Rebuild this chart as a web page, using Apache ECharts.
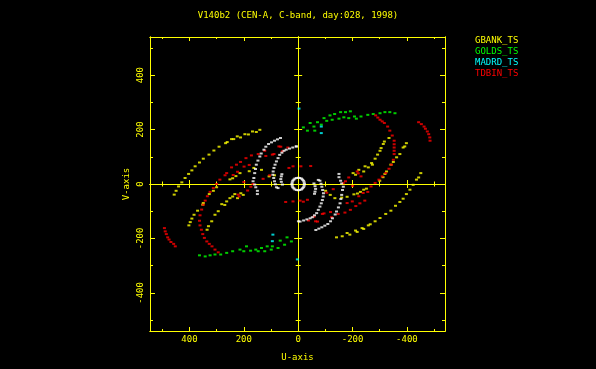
<!DOCTYPE html>
<html><head><meta charset="utf-8">
<script src="https://cdn.jsdelivr.net/npm/echarts@6/dist/echarts.min.js"></script>
<style>html,body{margin:0;padding:0;background:#000;}#c{width:596px;height:369px;}</style>
</head><body><div id="c"></div>
<script>
// ---------- texts / ticks ----------
const chartTitle = 'V140b2 (CEN-A, C-band, day:028, 1998)';
const stationNames = ['GBANK_TS', 'GOLDS_TS', 'MADRD_TS', 'TDBIN_TS'];
const uAxisName = 'U-axis';
const vAxisName = 'V-axis';
const majorTicks = [-400, -200, 0, 200, 400];
const minorTicks = [-500, -300, -100, 100, 300, 500];
const tickLabels = [-400, -200, 0, 200, 400];
const uRange = [-540, 545];
const vRange = [-540, 540];

// ---------- GBANK_TS (yellow) [u, v] ----------
const gbankOuterA = [[456,-39],[449,-25],[440,-9],[428,6],[416,22],[403,37],[391,50],[379,65],[363,79],[349,93],[328,108],[310,123],[291,137],[267,150],[261,154],[245,165],[237,165],[224,175],[212,171],[196,183],[183,182],[168,193],[154,191],[141,199]];
const gbankOuterB = [[-141,-196],[-162,-192],[-180,-180],[-190,-186],[-211,-171],[-217,-176],[-235,-162],[-241,-165],[-258,-152],[-265,-148],[-283,-137],[-301,-125],[-322,-110],[-341,-98],[-358,-80],[-374,-66],[-386,-54],[-398,-37],[-411,-21],[-423,-3],[-435,16],[-443,24],[-451,40]];
const gbankMidA = [[-202,40],[-211,34],[-223,52],[-241,46],[-246,65],[-258,61],[-270,77],[-273,71],[-283,93],[-292,108],[-301,122],[-305,132],[-313,147],[-317,156],[-334,169]];
const gbankMidB = [[202,-40],[211,-34],[223,-52],[233,-37],[241,-46],[251,-52],[263,-64],[270,-77],[281,-74],[294,-100],[306,-113],[318,-137],[330,-155],[335,-168]];
const gbankInnerA = [[-300,12],[-312,25],[-319,37],[-325,46],[-341,71],[-350,81],[-362,98],[-374,110],[-386,134],[-392,138],[-398,150]];
const gbankInnerB = [[300,-12],[312,-25],[327,-37],[349,-70],[351,-76],[370,-98],[383,-113],[391,-127],[397,-140],[402,-152]];
const gbankNearA = [[-101,-25],[-118,-40],[-135,-52],[-160,-50],[-180,-47],[-205,-38],[-218,-35],[-229,-29],[-241,-21],[-251,-17]];
const gbankNearB = [[87,32],[107,28],[135,52],[163,59],[180,47],[214,40],[229,29],[241,21],[251,17]];

// ---------- GOLDS_TS (green) ----------
const goldsA = [[363,-262],[342,-266],[324,-262],[306,-259],[285,-259],[263,-253],[241,-247],[214,-241],[200,-247],[190,-229],[175,-245],[156,-241],[147,-247],[135,-235],[123,-247],[114,-229],[99,-241],[95,-229],[74,-235],[66,-208],[50,-223],[41,-196],[25,-211]];
const goldsB = [[-19,208],[-34,196],[-44,224],[-58,211],[-61,196],[-71,227],[-85,218],[-95,242],[-105,232],[-117,252],[-125,236],[-134,257],[-150,240],[-156,264],[-168,245],[-174,264],[-186,242],[-192,267],[-207,248],[-214,240],[-231,248],[-256,254],[-276,257],[-301,260],[-319,264],[-337,264],[-356,260]];

// ---------- MADRD_TS (cyan) ----------
const madrd = [[93,-186],[95,-210],[-85,211],[-85,187],[3,-277],[-3,277]];

// ---------- TDBIN_TS (red) ----------
const tdbinOuterA = [[492,-162],[489,-174],[485,-184],[480,-196],[475,-204],[468,-213],[458,-220],[452,-229]];
const tdbinOuterB = [[-443,227],[-453,220],[-463,211],[-468,203],[-475,193],[-480,183],[-484,171],[-485,159]];
const tdbinMainA = [[239,33],[223,45],[199,64],[180,70],[263,40],[269,32],[288,16],[300,0],[312,-15],[324,-29],[334,-45],[342,-61],[349,-76],[355,-94],[361,-115],[363,-135],[361,-152],[356,-168],[351,-184],[345,-198],[336,-211],[327,-220],[317,-229],[306,-241],[294,-251]];
const tdbinMainB = [[-285,252],[-293,244],[-301,236],[-309,230],[-317,224],[-329,211],[-337,196],[-346,178],[-353,159],[-353,146],[-353,134],[-353,122],[-353,110],[-350,89],[-343,71],[-334,56],[-322,40],[-309,28],[-297,16],[-283,4],[-268,-9],[-256,-29],[-239,-33],[-223,-45],[-199,-64],[-180,-70]];
const tdbinInnerA = [[245,61],[227,71],[212,81],[192,95],[172,105],[147,110],[123,122],[95,108],[71,138],[58,120],[38,134],[34,59],[19,65],[129,19],[105,32],[166,0],[200,7],[221,-39],[46,-66],[19,-64],[186,-24],[174,-10],[217,-46],[89,110],[64,137],[119,103]];
const tdbinInnerB = [[-245,-61],[-227,-71],[-212,-81],[-192,-95],[-172,-105],[-147,-110],[-123,-122],[-95,-108],[-71,-138],[-58,-120],[-38,-134],[-34,-58],[-19,-65],[-7,-61],[-129,-19],[-105,-32],[-166,3],[-200,-7],[-221,39],[-46,66],[-10,65],[-186,24],[-174,10],[-217,46],[-231,28],[-89,-110],[-64,-137],[-119,-103]];

// ---------- unlabelled white tracks ----------
const whiteArcA = [[150,-37],[150,-25],[156,-12],[160,-2],[166,10],[163,22],[160,40],[157,55],[154,71],[148,86],[141,101],[136,112],[126,126],[119,137],[109,147],[98,153],[87,159],[76,164],[65,169]];
const whiteArcB = [[7,138],[20,134],[32,130],[44,126],[52,122],[60,115],[68,107],[74,95],[80,83],[85,71],[89,59],[92,46],[93,34],[90,22],[87,10],[84,-1],[80,-12],[74,-15]];
const whiteArcC = [[62,28],[60,36],[64,18],[62,8],[58,-2]];
const whiteArcD = [[-150,37],[-150,25],[-156,12],[-160,2],[-166,-10],[-163,-22],[-160,-40],[-157,-55],[-154,-71],[-148,-86],[-141,-101],[-136,-112],[-126,-126],[-119,-137],[-109,-147],[-98,-153],[-87,-159],[-76,-164],[-65,-169]];
const whiteArcE = [[-7,-138],[-20,-134],[-32,-130],[-44,-126],[-52,-122],[-60,-115],[-68,-107],[-74,-95],[-80,-83],[-85,-71],[-89,-59],[-92,-46],[-93,-34],[-90,-22],[-87,-10],[-84,1],[-80,12],[-74,15]];
const whiteArcF = [[-62,-28],[-60,-36],[-64,-18],[-62,-8],[-58,2]];
const whiteRing = [[23,0],[22,6],[20,12],[16,16],[12,20],[6,22],[0,23],[-6,22],[-12,20],[-16,16],[-20,12],[-22,6],[-23,0],[-22,-6],[-20,-12],[-16,-16],[-12,-20],[-6,-22],[0,-23],[6,-22],[12,-20],[16,-16],[20,-12],[22,-6]];
const whiteDots = [[-1,-137],[7,138]];

// ---------- styling ----------
const YEL = '#ffff00';
const FONT = 'DejaVu Sans Mono';
const colors = ['#ffff00', '#00ff00', '#00ffff', '#ff0000'];

function axis(dim, position, ticks, len, inside, onZero, extra) {
  const isX = dim === 'x';
  return Object.assign({
    type: 'value', position,
    min: isX ? uRange[0] : vRange[0], max: isX ? uRange[1] : vRange[1], inverse: isX,
    axisLine: { show: true, onZero: onZero, lineStyle: { color: YEL, width: 1 } },
    axisTick: { show: true, inside: inside, length: len, customValues: ticks, lineStyle: { color: YEL, width: 1 } },
    axisLabel: { show: false },
    splitLine: { show: false }, minorTick: { show: false }, minorSplitLine: { show: false },
    silent: true
  }, extra || {});
}
const labelStyle = { show: true, customValues: tickLabels, color: YEL, fontFamily: FONT, fontSize: 9 };
const nameStyle = { color: YEL, fontFamily: FONT, fontSize: 9 };

const xAxes = [
  axis('x', 'bottom', majorTicks, 4, true, false, { axisLabel: Object.assign({ margin: 4 }, labelStyle), name: uAxisName, nameLocation: 'middle', nameGap: 22, nameTextStyle: nameStyle }),
  axis('x', 'bottom', minorTicks, 2, true, false),
  axis('x', 'top', majorTicks, 4, true, false),
  axis('x', 'top', minorTicks, 2, true, false),
  axis('x', 'bottom', majorTicks, 4, true, true),
  axis('x', 'bottom', majorTicks, 4, false, true),
  axis('x', 'bottom', minorTicks, 2.5, true, true),
  axis('x', 'bottom', minorTicks, 2.5, false, true)
];
const yAxes = [
  axis('y', 'left', majorTicks, 5, true, false, { axisLabel: Object.assign({ margin: 5, rotate: 90 }, labelStyle), name: vAxisName, nameLocation: 'middle', nameGap: 19, nameTextStyle: nameStyle }),
  axis('y', 'left', minorTicks, 3, true, false),
  axis('y', 'right', majorTicks, 5, true, false),
  axis('y', 'right', minorTicks, 3, true, false),
  axis('y', 'left', majorTicks, 4, true, true),
  axis('y', 'left', majorTicks, 4, false, true),
  axis('y', 'left', minorTicks, 2.5, true, true),
  axis('y', 'left', minorTicks, 2.5, false, true)
];

function pts(name, color, data) {
  return { name, type: 'scatter', data, symbol: 'rect', symbolSize: [3, 2], itemStyle: { color }, silent: true, xAxisIndex: 0, yAxisIndex: 0 };
}

const series = [
  pts(stationNames[0], colors[0], [].concat(gbankOuterA, gbankOuterB, gbankMidA, gbankMidB, gbankInnerA, gbankInnerB, gbankNearA, gbankNearB)),
  pts(stationNames[1], colors[1], [].concat(goldsA, goldsB)),
  pts(stationNames[2], colors[2], madrd),
  pts(stationNames[3], colors[3], [].concat(tdbinOuterA, tdbinOuterB, tdbinMainA, tdbinMainB, tdbinInnerA, tdbinInnerB)),
  pts('other', '#ffffff', [].concat(whiteArcA, whiteArcB, whiteArcC, whiteArcD, whiteArcE, whiteArcF, whiteRing, whiteDots))
];

const chart = echarts.init(document.getElementById('c'), null, { renderer: 'canvas' });
chart.setOption({
  backgroundColor: '#000000',
  animation: false,
  title: { text: chartTitle, left: 'center', top: 11, padding: 0, textStyle: { color: YEL, fontFamily: FONT, fontSize: 9, fontWeight: 'normal' } },
  legend: {
    orient: 'vertical', left: 470, top: 36, padding: 0, itemWidth: 0, itemHeight: 9, itemGap: 2, icon: 'none', selectedMode: false,
    textStyle: { fontFamily: FONT, fontSize: 9 },
    data: stationNames.map((n, i) => ({ name: n, textStyle: { color: colors[i] } }))
  },
  grid: { left: 150, top: 37, width: 295, height: 294, containLabel: false },
  xAxis: xAxes,
  yAxis: yAxes,
  series
});
</script></body></html>
